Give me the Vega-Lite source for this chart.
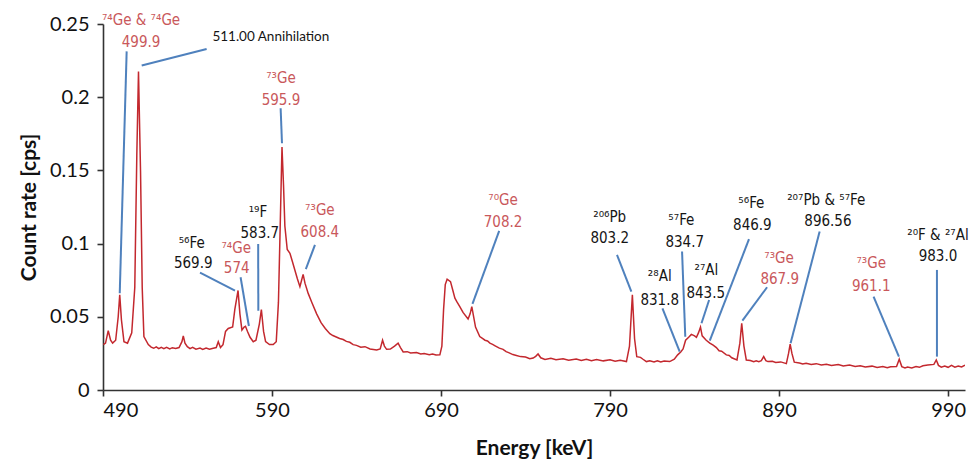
{
  "$schema": "https://vega.github.io/schema/vega-lite/v6.json",
  "width": 862,
  "height": 366,
  "autosize": "none",
  "padding": {"left": 103, "top": 24, "right": 9, "bottom": 69},
  "background": "white",
  "config": {
    "view": {"stroke": null},
    "font": "Lato",
    "axis": {
      "grid": false,
      "domainColor": "#333333",
      "domainWidth": 1.6,
      "tickColor": "#333333",
      "tickWidth": 1.6,
      "tickSize": 6,
      "labelFont": "Lato",
      "labelFontSize": 20,
      "labelColor": "#111111",
      "titleFont": "Lato",
      "titleFontSize": 21,
      "titleFontWeight": "bold",
      "titleColor": "#111111"
    }
  },
  "datasets": {
    "spectrum": [
      {"E": 490.2, "cps": 0.031}, {"E": 491.5, "cps": 0.032}, {"E": 493.1, "cps": 0.0405}, {"E": 494.5, "cps": 0.034},
      {"E": 495.7, "cps": 0.032}, {"E": 497.5, "cps": 0.034}, {"E": 499.0, "cps": 0.05}, {"E": 499.9, "cps": 0.065},
      {"E": 500.9, "cps": 0.048}, {"E": 502.4, "cps": 0.033}, {"E": 504.5, "cps": 0.032}, {"E": 507.0, "cps": 0.039},
      {"E": 508.8, "cps": 0.07}, {"E": 510.0, "cps": 0.16}, {"E": 511.0, "cps": 0.2176}, {"E": 512.2, "cps": 0.15},
      {"E": 513.2, "cps": 0.07}, {"E": 514.2, "cps": 0.0365}, {"E": 516.8, "cps": 0.031}, {"E": 518.5, "cps": 0.0293},
      {"E": 520, "cps": 0.0285}, {"E": 521.5, "cps": 0.0295}, {"E": 523, "cps": 0.0282}, {"E": 524.5, "cps": 0.0291},
      {"E": 526, "cps": 0.0283}, {"E": 527.6, "cps": 0.0292}, {"E": 529.5, "cps": 0.0281}, {"E": 531, "cps": 0.0289},
      {"E": 533, "cps": 0.0283}, {"E": 535, "cps": 0.029},
      {"E": 536.7, "cps": 0.033}, {"E": 537.5, "cps": 0.037}, {"E": 538.5, "cps": 0.032}, {"E": 539.9, "cps": 0.0296},
      {"E": 541.5, "cps": 0.0283}, {"E": 543, "cps": 0.0291}, {"E": 545, "cps": 0.0279}, {"E": 547.4, "cps": 0.0286},
      {"E": 549, "cps": 0.0277}, {"E": 551, "cps": 0.0287}, {"E": 553, "cps": 0.0279}, {"E": 555.2, "cps": 0.0285},
      {"E": 557, "cps": 0.029}, {"E": 558.2, "cps": 0.033}, {"E": 559.5, "cps": 0.029}, {"E": 561, "cps": 0.031},
      {"E": 562.5, "cps": 0.04}, {"E": 564.1, "cps": 0.042}, {"E": 566.7, "cps": 0.043}, {"E": 568.0, "cps": 0.055},
      {"E": 569.9, "cps": 0.068}, {"E": 571.0, "cps": 0.052}, {"E": 572.2, "cps": 0.041}, {"E": 573.5, "cps": 0.043},
      {"E": 574.3, "cps": 0.0435}, {"E": 575.5, "cps": 0.04}, {"E": 577, "cps": 0.036}, {"E": 578.9, "cps": 0.033},
      {"E": 580.5, "cps": 0.034}, {"E": 582.5, "cps": 0.045}, {"E": 583.7, "cps": 0.055}, {"E": 585.0, "cps": 0.04},
      {"E": 586.2, "cps": 0.033}, {"E": 588.5, "cps": 0.031}, {"E": 590.7, "cps": 0.031}, {"E": 592.5, "cps": 0.033},
      {"E": 593.8, "cps": 0.06}, {"E": 594.8, "cps": 0.11}, {"E": 595.9, "cps": 0.166}, {"E": 596.8, "cps": 0.14},
      {"E": 597.6, "cps": 0.112}, {"E": 599.0, "cps": 0.096}, {"E": 600.6, "cps": 0.0934}, {"E": 602, "cps": 0.088},
      {"E": 603.5, "cps": 0.082}, {"E": 605, "cps": 0.076}, {"E": 606.5, "cps": 0.0706}, {"E": 607.5, "cps": 0.075},
      {"E": 608.4, "cps": 0.079}, {"E": 609.5, "cps": 0.073}, {"E": 611.4, "cps": 0.066}, {"E": 613.5, "cps": 0.06},
      {"E": 616.4, "cps": 0.052}, {"E": 619, "cps": 0.046}, {"E": 621.5, "cps": 0.042}, {"E": 624.2, "cps": 0.0385},
      {"E": 626, "cps": 0.0372}, {"E": 628, "cps": 0.0362}, {"E": 630, "cps": 0.0352}, {"E": 632.1, "cps": 0.0345},
      {"E": 634, "cps": 0.0332}, {"E": 636, "cps": 0.0326}, {"E": 638, "cps": 0.031}, {"E": 640, "cps": 0.0305},
      {"E": 642.5, "cps": 0.0292}, {"E": 645, "cps": 0.0296}, {"E": 648, "cps": 0.028}, {"E": 651.9, "cps": 0.0273},
      {"E": 654, "cps": 0.028},
      {"E": 655.4, "cps": 0.034}, {"E": 656.5, "cps": 0.03}, {"E": 657.8, "cps": 0.0278}, {"E": 660, "cps": 0.028},
      {"E": 662.5, "cps": 0.03}, {"E": 664.6, "cps": 0.032}, {"E": 666, "cps": 0.029}, {"E": 667.6, "cps": 0.026},
      {"E": 670, "cps": 0.0262}, {"E": 672, "cps": 0.0253}, {"E": 675.5, "cps": 0.0256}, {"E": 678, "cps": 0.0246},
      {"E": 680, "cps": 0.0249}, {"E": 683, "cps": 0.0241}, {"E": 685, "cps": 0.0246}, {"E": 687, "cps": 0.0239},
      {"E": 689.3, "cps": 0.024}, {"E": 690.5, "cps": 0.03}, {"E": 691.5, "cps": 0.055}, {"E": 692.5, "cps": 0.072},
      {"E": 693.6, "cps": 0.0757}, {"E": 695.6, "cps": 0.074}, {"E": 697, "cps": 0.068}, {"E": 698.2, "cps": 0.0627},
      {"E": 699.5, "cps": 0.06}, {"E": 701.1, "cps": 0.057}, {"E": 703, "cps": 0.053}, {"E": 706, "cps": 0.0485},
      {"E": 707.2, "cps": 0.052}, {"E": 708.2, "cps": 0.057}, {"E": 709.3, "cps": 0.05}, {"E": 710.4, "cps": 0.043},
      {"E": 712.9, "cps": 0.0365}, {"E": 714.5, "cps": 0.0352}, {"E": 716, "cps": 0.034}, {"E": 717.5, "cps": 0.0335},
      {"E": 718.9, "cps": 0.032}, {"E": 720.5, "cps": 0.0312}, {"E": 722, "cps": 0.0302}, {"E": 724.5, "cps": 0.0286},
      {"E": 726.7, "cps": 0.0278}, {"E": 728.5, "cps": 0.0262}, {"E": 730, "cps": 0.0255}, {"E": 732.5, "cps": 0.0242},
      {"E": 734.6, "cps": 0.0236}, {"E": 737, "cps": 0.0228}, {"E": 740, "cps": 0.0225}, {"E": 742.5, "cps": 0.0214},
      {"E": 744.5, "cps": 0.0218}, {"E": 746, "cps": 0.023}, {"E": 747.4, "cps": 0.0246}, {"E": 749, "cps": 0.022},
      {"E": 751.5, "cps": 0.0209}, {"E": 755, "cps": 0.0216}, {"E": 758, "cps": 0.0207}, {"E": 762.2, "cps": 0.0214},
      {"E": 765.5, "cps": 0.0204}, {"E": 770, "cps": 0.0211}, {"E": 773, "cps": 0.0201}, {"E": 776, "cps": 0.021},
      {"E": 779, "cps": 0.02}, {"E": 782, "cps": 0.0208}, {"E": 786, "cps": 0.0199}, {"E": 790, "cps": 0.0206},
      {"E": 793, "cps": 0.0197}, {"E": 796, "cps": 0.0203}, {"E": 799.7, "cps": 0.0194},
      {"E": 801.5, "cps": 0.03}, {"E": 803.2, "cps": 0.065}, {"E": 804.5, "cps": 0.035}, {"E": 805.8, "cps": 0.0228},
      {"E": 808, "cps": 0.0223}, {"E": 809.5, "cps": 0.021}, {"E": 811.5, "cps": 0.0194}, {"E": 813.5, "cps": 0.0199},
      {"E": 816, "cps": 0.0192}, {"E": 818, "cps": 0.02}, {"E": 820, "cps": 0.0191}, {"E": 822, "cps": 0.0198},
      {"E": 825.3, "cps": 0.0194}, {"E": 828, "cps": 0.021},
      {"E": 830, "cps": 0.024}, {"E": 831.8, "cps": 0.026}, {"E": 833.2, "cps": 0.028}, {"E": 834.7, "cps": 0.034},
      {"E": 836.5, "cps": 0.036}, {"E": 838.1, "cps": 0.038}, {"E": 840, "cps": 0.037}, {"E": 841.1, "cps": 0.036},
      {"E": 842.3, "cps": 0.039}, {"E": 843.5, "cps": 0.043}, {"E": 844.5, "cps": 0.037}, {"E": 846.9, "cps": 0.034},
      {"E": 849, "cps": 0.032}, {"E": 851, "cps": 0.0306}, {"E": 852.9, "cps": 0.029}, {"E": 854.5, "cps": 0.0268},
      {"E": 856, "cps": 0.0265}, {"E": 858.8, "cps": 0.024}, {"E": 860.5, "cps": 0.0236}, {"E": 862, "cps": 0.022},
      {"E": 865.1, "cps": 0.0205}, {"E": 866.8, "cps": 0.032}, {"E": 867.9, "cps": 0.0456},
      {"E": 869.2, "cps": 0.03}, {"E": 870.6, "cps": 0.0205}, {"E": 873, "cps": 0.0202}, {"E": 875, "cps": 0.0193},
      {"E": 876.5, "cps": 0.0199}, {"E": 878, "cps": 0.0194},
      {"E": 879.5, "cps": 0.02}, {"E": 880.9, "cps": 0.0228}, {"E": 882.2, "cps": 0.02}, {"E": 883.4, "cps": 0.0194},
      {"E": 886, "cps": 0.0196}, {"E": 888, "cps": 0.0188}, {"E": 891, "cps": 0.0192}, {"E": 894.3, "cps": 0.018},
      {"E": 895.6, "cps": 0.025},
      {"E": 896.56, "cps": 0.0314}, {"E": 897.6, "cps": 0.025}, {"E": 899, "cps": 0.019}, {"E": 902, "cps": 0.0184},
      {"E": 904, "cps": 0.0177}, {"E": 906, "cps": 0.0183}, {"E": 909, "cps": 0.0174}, {"E": 912, "cps": 0.018},
      {"E": 915, "cps": 0.0171}, {"E": 918, "cps": 0.0176}, {"E": 921, "cps": 0.0167}, {"E": 925, "cps": 0.0174},
      {"E": 928, "cps": 0.0164}, {"E": 931.7, "cps": 0.017}, {"E": 935, "cps": 0.0161}, {"E": 938, "cps": 0.0166},
      {"E": 941, "cps": 0.0157}, {"E": 945, "cps": 0.0163}, {"E": 948, "cps": 0.0154}, {"E": 951.4, "cps": 0.016},
      {"E": 954, "cps": 0.0152}, {"E": 956, "cps": 0.0158}, {"E": 959.5, "cps": 0.016}, {"E": 961.1, "cps": 0.021},
      {"E": 962.6, "cps": 0.016}, {"E": 964.5, "cps": 0.0151}, {"E": 966, "cps": 0.0157}, {"E": 968.5, "cps": 0.0151},
      {"E": 971, "cps": 0.016}, {"E": 973, "cps": 0.0155}, {"E": 975.1, "cps": 0.0166}, {"E": 978, "cps": 0.017},
      {"E": 981.6, "cps": 0.0175}, {"E": 983.0, "cps": 0.0205}, {"E": 984.3, "cps": 0.0168}, {"E": 986, "cps": 0.0156},
      {"E": 988, "cps": 0.0163}, {"E": 990, "cps": 0.0155}, {"E": 992, "cps": 0.0168}, {"E": 994, "cps": 0.0156},
      {"E": 996, "cps": 0.0164}, {"E": 998, "cps": 0.0157}, {"E": 1000, "cps": 0.017}
    ],
    "leaders": [
      {"E1": 504.0, "c1": 0.2313, "E2": 499.9, "c2": 0.0661},
      {"E1": 512.9, "c1": 0.2217, "E2": 551.3, "c2": 0.2329},
      {"E1": 595.1, "c1": 0.1925, "E2": 595.9, "c2": 0.1686},
      {"E1": 581.8, "c1": 0.0998, "E2": 581.9, "c2": 0.0542},
      {"E1": 547.4, "c1": 0.0802, "E2": 568.1, "c2": 0.0679},
      {"E1": 571.4, "c1": 0.077, "E2": 576.3, "c2": 0.0437},
      {"E1": 615.4, "c1": 0.0991, "E2": 610.0, "c2": 0.0825},
      {"E1": 724.4, "c1": 0.1087, "E2": 708.6, "c2": 0.0588},
      {"E1": 794.1, "c1": 0.0923, "E2": 802.6, "c2": 0.0672},
      {"E1": 821.0, "c1": 0.0558, "E2": 831.2, "c2": 0.0262},
      {"E1": 832.6, "c1": 0.0946, "E2": 834.5, "c2": 0.0364},
      {"E1": 848.6, "c1": 0.0615, "E2": 844.1, "c2": 0.0456},
      {"E1": 872.2, "c1": 0.103, "E2": 849.0, "c2": 0.0337},
      {"E1": 882.9, "c1": 0.0702, "E2": 868.3, "c2": 0.0474},
      {"E1": 914.0, "c1": 0.1082, "E2": 896.8, "c2": 0.0319},
      {"E1": 945.9, "c1": 0.0638, "E2": 960.9, "c2": 0.0228},
      {"E1": 983.4, "c1": 0.082, "E2": 983.4, "c2": 0.0228}
    ],
    "labels": [
      {"E": 512.5, "cps": 0.2529, "text": "⁷⁴Ge & ⁷⁴Ge", "group": "Ge"},
      {"E": 512.5, "cps": 0.2379, "text": "499.9", "group": "Ge"},
      {"E": 595.3, "cps": 0.2133, "text": "⁷³Ge", "group": "Ge"},
      {"E": 595.3, "cps": 0.1982, "text": "595.9", "group": "Ge"},
      {"E": 581.7, "cps": 0.1217, "text": "¹⁹F", "group": "other"},
      {"E": 582.8, "cps": 0.1073, "text": "583.7", "group": "other"},
      {"E": 542.5, "cps": 0.1003, "text": "⁵⁶Fe", "group": "other"},
      {"E": 543.4, "cps": 0.0866, "text": "569.9", "group": "other"},
      {"E": 568.8, "cps": 0.0972, "text": "⁷⁴Ge", "group": "Ge"},
      {"E": 569.1, "cps": 0.0832, "text": "574", "group": "Ge"},
      {"E": 618.3, "cps": 0.123, "text": "⁷³Ge", "group": "Ge"},
      {"E": 618.3, "cps": 0.1082, "text": "608.4", "group": "Ge"},
      {"E": 726.7, "cps": 0.1299, "text": "⁷⁰Ge", "group": "Ge"},
      {"E": 726.7, "cps": 0.115, "text": "708.2", "group": "Ge"},
      {"E": 789.8, "cps": 0.1185, "text": "²⁰⁶Pb", "group": "other"},
      {"E": 789.8, "cps": 0.1037, "text": "803.2", "group": "other"},
      {"E": 819.4, "cps": 0.0779, "text": "²⁸Al", "group": "other"},
      {"E": 819.4, "cps": 0.0615, "text": "831.8", "group": "other"},
      {"E": 832.2, "cps": 0.1162, "text": "⁵⁷Fe", "group": "other"},
      {"E": 834.2, "cps": 0.1014, "text": "834.7", "group": "other"},
      {"E": 847.0, "cps": 0.082, "text": "²⁷Al", "group": "other"},
      {"E": 846.6, "cps": 0.0661, "text": "843.5", "group": "other"},
      {"E": 873.6, "cps": 0.1276, "text": "⁵⁶Fe", "group": "other"},
      {"E": 874.2, "cps": 0.1128, "text": "846.9", "group": "other"},
      {"E": 890.0, "cps": 0.09, "text": "⁷³Ge", "group": "Ge"},
      {"E": 890.4, "cps": 0.0757, "text": "867.9", "group": "Ge"},
      {"E": 917.9, "cps": 0.1299, "text": "²⁰⁷Pb & ⁵⁷Fe", "group": "other"},
      {"E": 918.9, "cps": 0.1157, "text": "896.56", "group": "other"},
      {"E": 944.5, "cps": 0.0866, "text": "⁷³Ge", "group": "Ge"},
      {"E": 944.5, "cps": 0.0711, "text": "961.1", "group": "Ge"},
      {"E": 984.0, "cps": 0.106, "text": "²⁰F & ²⁷Al", "group": "other"},
      {"E": 984.0, "cps": 0.0916, "text": "983.0", "group": "other"}
    ],
    "annihilation": [
      {"E": 589.3, "cps": 0.2413, "text": "511.00 Annihilation"}
    ]
  },
  "layer": [
    {
      "data": {"name": "spectrum"},
      "mark": {"type": "line", "color": "#c3282e", "strokeWidth": 1.5, "clip": true},
      "encoding": {
        "x": {
          "field": "E", "type": "quantitative",
          "scale": {"domain": [490, 1000], "nice": false, "zero": false},
          "axis": {"title": "Energy [keV]", "values": [490, 590, 690, 790, 890, 990], "format": "d", "labelPadding": 4, "titlePadding": 17}
        },
        "y": {
          "field": "cps", "type": "quantitative",
          "scale": {"domain": [0, 0.25], "nice": false},
          "axis": {"title": "Count rate [cps]", "values": [0, 0.05, 0.1, 0.15, 0.2, 0.25], "format": "~g", "labelPadding": 8, "titlePadding": 10}
        }
      }
    },
    {
      "data": {"name": "leaders"},
      "mark": {"type": "rule", "color": "#4f81bd", "strokeWidth": 2},
      "encoding": {
        "x": {"field": "E1", "type": "quantitative"},
        "y": {"field": "c1", "type": "quantitative"},
        "x2": {"field": "E2"},
        "y2": {"field": "c2"}
      }
    },
    {
      "data": {"name": "labels"},
      "mark": {"type": "text", "font": "DejaVu Sans Condensed", "fontSize": 15, "align": "center", "baseline": "middle"},
      "encoding": {
        "x": {"field": "E", "type": "quantitative"},
        "y": {"field": "cps", "type": "quantitative"},
        "text": {"field": "text"},
        "color": {
          "field": "group", "type": "nominal",
          "scale": {"domain": ["Ge", "other"], "range": ["#c9585b", "#151515"]},
          "legend": null
        }
      }
    },
    {
      "data": {"name": "annihilation"},
      "mark": {"type": "text", "font": "Lato", "fontSize": 13.5, "align": "center", "baseline": "middle", "color": "#151515"},
      "encoding": {
        "x": {"field": "E", "type": "quantitative"},
        "y": {"field": "cps", "type": "quantitative"},
        "text": {"field": "text"}
      }
    }
  ]
}
